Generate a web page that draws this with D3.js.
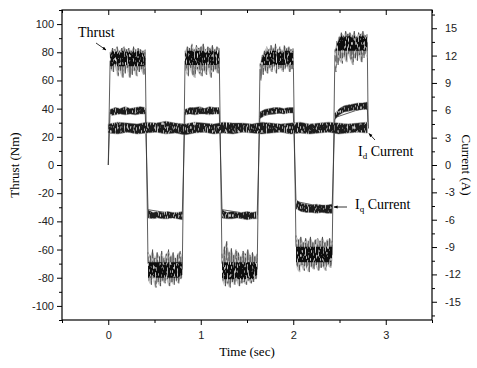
<!DOCTYPE html>
<html>
<head>
<meta charset="utf-8">
<script src="https://cdn.jsdelivr.net/npm/d3@7"></script>
<style>
  body { margin: 0; background: #fff; }
  .tick text { font-family: "Liberation Sans", Arial, sans-serif; font-size: 11px; fill: #222; }
  .tick line { stroke: #000; }
  .title { font-family: "Liberation Serif", "Times New Roman", serif; font-size: 13px; fill: #000; }
  .note { font-family: "Liberation Serif", "Times New Roman", serif; font-size: 14px; fill: #000; }
</style>
</head>
<body>
<svg id="chart" width="477" height="368"></svg>
<script>
// axis ticks
const timeTicks = [0, 1, 2, 3];
const timeMinor = [-0.5, 0.5, 1.5, 2.5, 3.5];
const thrustTicks = [-100, -80, -60, -40, -20, 0, 20, 40, 60, 80, 100];
const thrustMinor = [-110, -90, -70, -50, -30, -10, 10, 30, 50, 70, 90, 110];
const currentTicks = [-15, -12, -9, -6, -3, 0, 3, 6, 9, 12, 15];
const currentMinor = [-16.5, -13.5, -10.5, -7.5, -4.5, -1.5, 1.5, 4.5, 7.5, 10.5, 13.5, 16.5];

// half cycles of the square-wave command (sec)
const halfCycles = [[0.02, 0.40], [0.43, 0.80], [0.83, 1.20], [1.23, 1.61], [1.64, 2.00], [2.03, 2.42], [2.45, 2.80]];

// thrust (Nm): switching path, noise envelope and dense core per half cycle
const thrustPath = [[0, 0], [0.02, 74], [0.40, 76], [0.43, -70], [0.80, -74], [0.83, 74], [1.20, 76], [1.23, -70],
  [1.61, -74], [1.64, 68], [2.00, 76], [2.03, -58], [2.42, -64], [2.45, 78], [2.80, 87], [2.81, 26]];
const thrustUpper = [
  [80, 83, 82, 84, 81, 83, 84, 82, 83, 81, 84, 82, 83, 82, 81, 82],
  [-62, -64, -60, -66, -62, -65, -61, -66, -63, -60, -65, -62, -66, -63, -61, -64],
  [81, 84, 83, 86, 82, 85, 83, 84, 86, 82, 84, 83, 85, 82, 84, 83],
  [-63, -58, -54, -62, -59, -64, -60, -62, -65, -61, -63, -60, -64, -62, -65, -63],
  [72, 78, 81, 84, 82, 85, 83, 86, 82, 84, 81, 85, 83, 84, 82, 83],
  [-50, -53, -51, -55, -52, -54, -51, -55, -53, -52, -54, -51, -55, -53, -52, -54],
  [82, 88, 91, 94, 92, 95, 93, 94, 92, 95, 91, 94, 93, 95, 92, 93]
];
const thrustLower = [
  [68, 66, 70, 63, 67, 62, 65, 69, 62, 64, 67, 63, 66, 68, 64, 69],
  [-82, -85, -80, -87, -83, -86, -82, -84, -81, -86, -83, -85, -82, -84, -81, -80],
  [67, 63, 69, 64, 62, 68, 65, 63, 67, 64, 69, 62, 66, 68, 65, 70],
  [-82, -86, -84, -87, -83, -85, -82, -86, -84, -83, -85, -82, -84, -83, -81, -80],
  [60, 64, 67, 65, 69, 66, 70, 65, 68, 69, 66, 68, 70, 66, 68, 69],
  [-72, -76, -71, -75, -73, -76, -72, -74, -71, -75, -73, -72, -75, -71, -73, -70],
  [66, 71, 74, 72, 77, 73, 79, 75, 71, 76, 74, 78, 73, 76, 79, 76]
];
const thrustCore = [[70, 81], [-80, -69], [71, 81], [-81, -69], [71, 81], [-69, -58], [81, 92]];

// q-axis current (A)
const iqPath = [[0, 0], [0.02, 5.8], [0.40, 5.8], [0.43, -4.9], [0.80, -5.5], [0.83, 5.8], [1.20, 5.9], [1.23, -4.9],
  [1.61, -5.5], [1.64, 5.4], [2.00, 5.9], [2.03, -4.0], [2.42, -4.8], [2.45, 5.2], [2.80, 6.4], [2.81, 4.0]];
const iqUpper = [
  [6.1, 6.3, 6.2, 6.4, 6.2, 6.3, 6.4, 6.3],
  [-4.9, -5.2, -5.1, -5.2, -5.1, -5.2, -5.2, -5.1],
  [6.1, 6.3, 6.3, 6.4, 6.2, 6.4, 6.3, 6.3],
  [-4.9, -5.2, -5.1, -5.2, -5.2, -5.1, -5.2, -5.1],
  [5.8, 6.1, 6.2, 6.3, 6.3, 6.2, 6.3, 6.3],
  [-3.8, -4.2, -4.3, -4.4, -4.3, -4.4, -4.4, -4.3],
  [5.7, 6.2, 6.5, 6.6, 6.7, 6.8, 6.8, 6.9]
];
const iqLower = [
  [5.4, 5.5, 5.6, 5.5, 5.6, 5.5, 5.6, 5.6],
  [-5.8, -5.9, -5.8, -5.9, -5.9, -5.8, -5.9, -6.0],
  [5.5, 5.6, 5.5, 5.6, 5.6, 5.5, 5.6, 5.6],
  [-5.8, -5.9, -5.9, -5.8, -5.9, -6.0, -5.9, -5.9],
  [5.1, 5.4, 5.6, 5.6, 5.7, 5.6, 5.7, 5.7],
  [-4.8, -5.1, -5.2, -5.2, -5.3, -5.2, -5.3, -5.3],
  [5.0, 5.5, 5.8, 5.9, 6.0, 6.0, 6.1, 6.1]
];

// d-axis current (A), 0 .. 2.8 sec
const idSpan = [0.0, 2.80];
const idUpper = [4.5, 4.7, 4.6, 4.5, 4.7, 4.6, 4.8, 4.6, 4.5, 4.7, 4.6, 4.5, 4.7, 4.6,
  4.6, 4.5, 4.7, 4.6, 4.5, 4.6, 4.7, 4.5, 4.6, 4.7, 4.6, 4.5, 4.6, 4.7];
const idLower = [3.5, 3.4, 3.6, 3.4, 3.5, 3.6, 3.4, 3.5, 3.3, 3.5, 3.6, 3.4, 3.5, 3.4,
  3.6, 3.5, 3.4, 3.5, 3.6, 3.4, 3.5, 3.4, 3.5, 3.6, 3.4, 3.5, 3.6, 3.5];

const margin = { top: 10, right: 45, bottom: 48, left: 62 };
const width = 477 - margin.left - margin.right;
const height = 368 - margin.top - margin.bottom;

const svg = d3.select('#chart');
const g = svg.append('g').attr('transform', `translate(${margin.left},${margin.top})`);

const x = d3.scaleLinear().domain([-0.5, 3.5]).range([0, width]);
const yT = d3.scaleLinear().domain([-110, 110]).range([height, 0]);
const yC = d3.scaleLinear().domain([-17, 17]).range([height, 0]);

// sample times spread over a span
const sampleTimes = (span, n) => d3.range(n).map(k => span[0] + k * (span[1] - span[0]) / (n - 1));

const defs = svg.append('defs');
defs.append('marker')
  .attr('id', 'head')
  .attr('viewBox', '0 0 10 10')
  .attr('refX', 9).attr('refY', 5)
  .attr('markerWidth', 5).attr('markerHeight', 5)
  .attr('orient', 'auto')
  .append('path').attr('d', 'M0,1 L10,5 L0,9 Z').attr('fill', '#000');

// grainy texture for the dense noise bands (scope-trace look)
const grain = defs.append('filter').attr('id', 'grain')
  .attr('x', '-5%').attr('y', '-5%').attr('width', '110%').attr('height', '110%');
grain.append('feTurbulence').attr('type', 'fractalNoise')
  .attr('baseFrequency', '0.9 0.25').attr('numOctaves', 1).attr('seed', 4).attr('result', 'n');
grain.append('feColorMatrix').attr('in', 'n').attr('type', 'matrix')
  .attr('values', '0 0 0 0 1  0 0 0 0 1  0 0 0 0 1  3.2 0 0 0 -1.75').attr('result', 'speck');
grain.append('feComposite').attr('in', 'speck').attr('in2', 'SourceGraphic').attr('operator', 'in').attr('result', 'inside');
const merge = grain.append('feMerge');
merge.append('feMergeNode').attr('in', 'SourceGraphic');
merge.append('feMergeNode').attr('in', 'inside');

const plot = g.append('g');

// switching paths
const pathLine = y => d3.line().x(d => x(d[0])).y(d => y(d[1]));
plot.append('path').datum(thrustPath)
  .attr('d', pathLine(yT)).attr('fill', 'none').attr('stroke', '#333').attr('stroke-width', 0.8);
plot.append('path').datum(iqPath)
  .attr('d', pathLine(yC)).attr('fill', 'none').attr('stroke', '#333').attr('stroke-width', 0.8);

const bands = plot.append('g').attr('filter', 'url(#grain)');

// d-axis current band
const idT = sampleTimes(idSpan, idUpper.length);
bands.append('path').datum(idUpper)
  .attr('d', d3.area().x((d, k) => x(idT[k])).y0((d, k) => yC(idLower[k])).y1(d => yC(d)))
  .attr('fill', '#1e1e1e').attr('stroke', '#777').attr('stroke-width', 0.5);

// q-axis current bands
halfCycles.forEach((span, i) => {
  const ts = sampleTimes(span, iqUpper[i].length);
  bands.append('path').datum(iqUpper[i])
    .attr('d', d3.area().x((d, k) => x(ts[k])).y0((d, k) => yC(iqLower[i][k])).y1(d => yC(d)))
    .attr('fill', '#1a1a1a').attr('stroke', '#666').attr('stroke-width', 0.5);
});

// thrust bands: light envelope, spiky trace, dense core
halfCycles.forEach((span, i) => {
  const up = thrustUpper[i], lo = thrustLower[i];
  const ts = sampleTimes(span, up.length);
  const step = (span[1] - span[0]) / (up.length - 1);
  bands.append('path').datum(up)
    .attr('d', d3.area().x((d, k) => x(ts[k])).y0((d, k) => yT(lo[k])).y1(d => yT(d)))
    .attr('fill', '#bdbdbd');
  const zig = [];
  up.forEach((v, k) => {
    zig.push([ts[k], v]);
    if (k < up.length - 1) zig.push([ts[k] + step / 2, lo[k]]);
  });
  bands.append('path').datum(zig)
    .attr('d', pathLine(yT)).attr('fill', 'none').attr('stroke', '#333').attr('stroke-width', 0.6);
  const [cLo, cHi] = thrustCore[i];
  bands.append('path').datum(up)
    .attr('d', d3.area().x((d, k) => x(ts[k]))
      .y0((d, k) => yT(Math.max(lo[k] + 2, cLo)))
      .y1(d => yT(Math.min(d - 2, cHi))))
    .attr('fill', '#111');
});

// axes (hyphen minus signs as in the original figure)
const plain = d => String(d);
const noLabel = () => '';
const axisBottomG = g.append('g').attr('transform', `translate(0,${height})`);
axisBottomG.call(d3.axisBottom(x).tickValues(timeTicks).tickSize(5).tickPadding(6).tickFormat(plain));
axisBottomG.append('g').call(d3.axisBottom(x).tickValues(timeMinor).tickSize(3).tickFormat(noLabel));
const axisTopG = g.append('g');
axisTopG.call(d3.axisTop(x).tickValues(timeTicks).tickSize(-5).tickFormat(noLabel));
axisTopG.append('g').call(d3.axisTop(x).tickValues(timeMinor).tickSize(-3).tickFormat(noLabel));
const axisLeftG = g.append('g');
axisLeftG.call(d3.axisLeft(yT).tickValues(thrustTicks).tickSize(5).tickPadding(3).tickFormat(plain));
axisLeftG.append('g').call(d3.axisLeft(yT).tickValues(thrustMinor).tickSize(3).tickFormat(noLabel));
const axisRightG = g.append('g').attr('transform', `translate(${width},0)`);
axisRightG.call(d3.axisRight(yC).tickValues(currentTicks).tickSize(5).tickPadding(8).tickFormat(plain));
axisRightG.append('g').call(d3.axisRight(yC).tickValues(currentMinor).tickSize(3).tickFormat(noLabel));
g.selectAll('.domain').remove();

g.append('rect')
  .attr('width', width).attr('height', height)
  .attr('fill', 'none').attr('stroke', '#000').attr('stroke-width', 1.2);

// titles
svg.append('text').attr('class', 'title')
  .attr('x', margin.left + width / 2).attr('y', 356)
  .attr('text-anchor', 'middle').text('Time (sec)');
svg.append('text').attr('class', 'title')
  .attr('transform', `translate(19,${margin.top + height / 2}) rotate(-90)`)
  .attr('text-anchor', 'middle').text('Thrust (Nm)');
svg.append('text').attr('class', 'title')
  .attr('transform', `translate(462,${margin.top + height / 2}) rotate(90)`)
  .attr('text-anchor', 'middle').text('Current (A)');

// annotations
svg.append('text').attr('class', 'note').attr('x', 78).attr('y', 37).text('Thrust');
svg.append('line').attr('x1', 96).attr('y1', 43).attr('x2', 106).attr('y2', 50)
  .attr('stroke', '#000').attr('stroke-width', 0.8).attr('marker-end', 'url(#head)');

const idNote = svg.append('text').attr('class', 'note').attr('x', 358).attr('y', 156);
idNote.append('tspan').text('I');
idNote.append('tspan').attr('dy', 3).attr('font-size', 9).text('d');
idNote.append('tspan').attr('dy', -3).text(' Current');
svg.append('line').attr('x1', 375).attr('y1', 140).attr('x2', 369).attr('y2', 133.5)
  .attr('stroke', '#000').attr('stroke-width', 0.8).attr('marker-end', 'url(#head)');

const iqNote = svg.append('text').attr('class', 'note').attr('x', 355).attr('y', 209);
iqNote.append('tspan').text('I');
iqNote.append('tspan').attr('dy', 3).attr('font-size', 9).text('q');
iqNote.append('tspan').attr('dy', -3).text(' Current');
svg.append('line').attr('x1', 347).attr('y1', 207).attr('x2', 334).attr('y2', 207)
  .attr('stroke', '#000').attr('stroke-width', 0.8).attr('marker-end', 'url(#head)');
</script>
</body>
</html>
